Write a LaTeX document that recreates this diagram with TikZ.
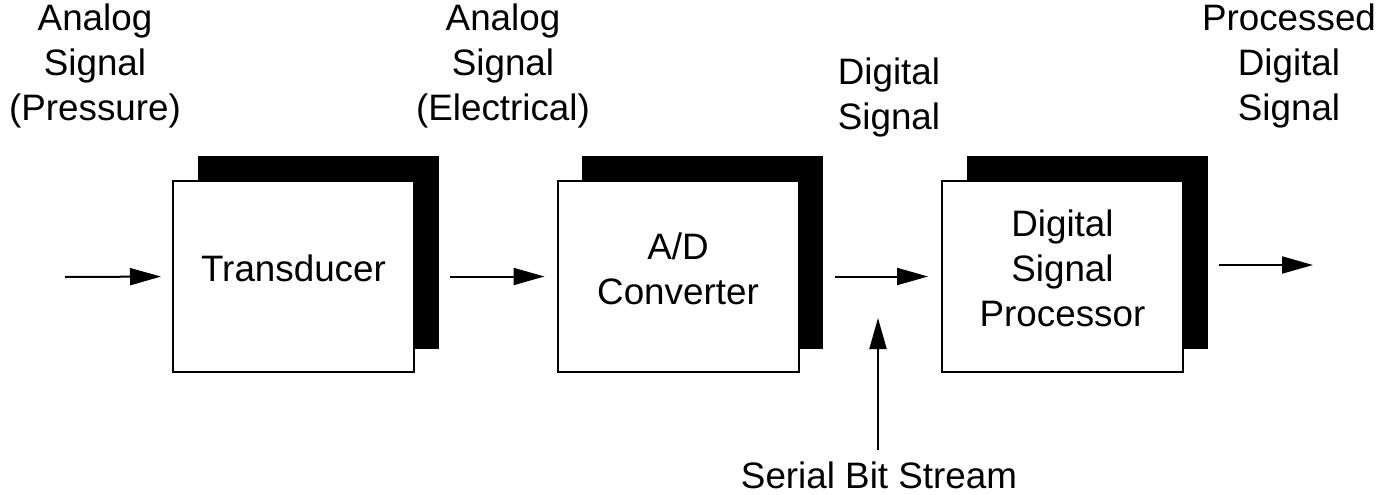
\documentclass[tikz,border=0pt]{standalone}
\usepackage{fontspec}
\setmainfont{Liberation Sans}
\usetikzlibrary{arrows.meta}
\begin{document}
\begin{tikzpicture}[x=0.5pt,y=-0.5pt,font=\fontsize{18.4}{22.5}\selectfont,line width=1pt,
	>={Triangle[length=15.5pt,width=8.5pt]},
	box/.style={draw,fill=white,minimum width=120.5pt,minimum height=95.5pt,inner sep=0pt},
	lbl/.style={align=center,inner sep=0pt}]
	\useasboundingbox (0,0) rectangle (1393,494);
	% blocks with their black drop shadows
	\foreach \n/\x/\t in {trans/293.5/Transducer, adc/678/{A/D\\Converter}, dsp/1062.5/{Digital\\Signal\\Processor}} {
		\fill (\x-96,156) rectangle (\x+145,349);
		\node[box,label={[lbl,yshift=4pt]center:\t}] (\n) at (\x,276.5) {};
	}
	% signal names
	\node[lbl] (pres) at (95,66) {Analog\\Signal\\(Pressure)};
	\node[lbl] (elec) at (503,66) {Analog\\Signal\\(Electrical)};
	\node[lbl] (dig) at (889,97) {Digital\\Signal};
	\node[lbl] (proc) at (1289,66) {Processed\\Digital\\Signal};
	\node[lbl] (bits) at (879,475) {Serial Bit Stream};
	\coordinate (in) at (65,277);
	\coordinate (out) at (1313,265);
	\coordinate (tap) at (878,318);
	% arrows
	\draw[->,shorten >=5.5pt] (in) -- (trans.west);
	\draw[->,shorten <=17.5pt,shorten >=6pt] (trans.east) -- (adc.west);
	\draw[->,shorten <=17.5pt,shorten >=6.5pt] (adc.east) -- (dsp.west);
	\draw[->,shorten <=17.5pt] (dsp.east |- out) -- (out);
	\draw[->] (bits.north -| tap) ++(0,-10) -- (tap);
\end{tikzpicture}
\end{document}
